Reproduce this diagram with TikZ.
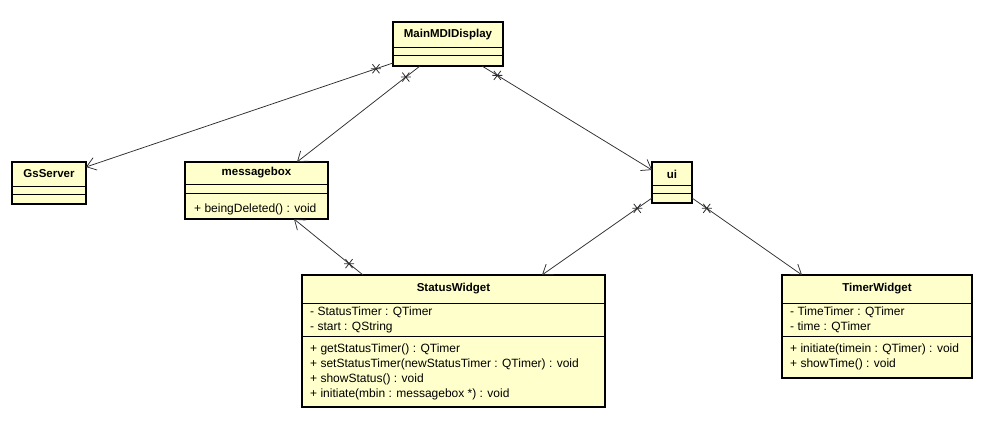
\documentclass[tikz,border=0pt]{standalone}
\usepackage{fontspec}
\setmainfont{Liberation Sans}
\usetikzlibrary{arrows.meta,calc}
\definecolor{clsfill}{RGB}{255,255,204}
\definecolor{linkcol}{RGB}{45,45,45}
\tikzset{
  cls/.style={draw=black, line width=1.6pt, fill=clsfill, rectangle, inner sep=0pt, outer sep=0pt, anchor=north west},
  sep/.style={draw=black, line width=0.9pt},
  title/.style={font=\fontsize{11.5}{13}\selectfont\bfseries, inner sep=0pt, anchor=center},
  member/.style={font=\fontsize{12}{14}\selectfont, inner sep=0pt, anchor=west},
  link/.style={draw=linkcol, line width=0.75pt, -{Straight Barb[length=9pt,width=13pt,line width=0.75pt]}},
  ast/.pic={\draw[linkcol, line width=0.8pt] (-5,0)--(5,0) (-3.5,-4.5)--(3.5,4.5) (-3.5,4.5)--(3.5,-4.5);}
}
\begin{document}
\begin{tikzpicture}[x=1pt,y=-1pt]
\useasboundingbox (0,0) rectangle (983,443);

% MainMDIDisplay
\node[cls, minimum width=110pt, minimum height=44pt] (main) at (393,22) {};
\draw[sep] (393,47) -- (503,47) (393,55) -- (503,55);
\node[title] (mainT) at (448,35) {MainMDIDisplay};

% GsServer
\node[cls, minimum width=74pt, minimum height=42pt] (gs) at (12,162) {};
\draw[sep] (12,186) -- (86,186) (12,194) -- (86,194);
\node[title] (gsT) at (49,174) {GsServer};

% messagebox
\node[cls, minimum width=143pt, minimum height=57pt] (msg) at (185,162) {};
\draw[sep] (185,184) -- (328,184) (185,193) -- (328,193);
\node[title] (msgT) at (256.5,173) {messagebox};
\node[member] (msgM1) at (194,209) {+ beingDeleted() : void};

% ui
\node[cls, minimum width=40pt, minimum height=41pt] (ui) at (652,162) {};
\draw[sep] (652,185) -- (692,185) (652,193) -- (692,193);
\node[title] (uiT) at (672,174) {ui};

% StatusWidget
\node[cls, minimum width=303pt, minimum height=132pt] (sw) at (302,275) {};
\draw[sep] (302,303) -- (605,303) (302,336) -- (605,336);
\node[title] (swT) at (453.5,289) {StatusWidget};
\node[member] (swA1) at (310,312) {- StatusTimer : QTimer};
\node[member] (swA2) at (310,327) {- start : QString};
\node[member] (swM1) at (310,349) {+ getStatusTimer() : QTimer};
\node[member] (swM2) at (310,364) {+ setStatusTimer(newStatusTimer : QTimer) : void};
\node[member] (swM3) at (310,379) {+ showStatus() : void};
\node[member] (swM4) at (310,394) {+ initiate(mbin : messagebox *) : void};

% TimerWidget
\node[cls, minimum width=190pt, minimum height=103pt] (tw) at (782,275) {};
\draw[sep] (782,303) -- (972,303) (782,336) -- (972,336);
\node[title] (twT) at (877,289) {TimerWidget};
\node[member] (twA1) at (790,312) {- TimeTimer : QTimer};
\node[member] (twA2) at (790,327) {- time : QTimer};
\node[member] (twM1) at (790,349) {+ initiate(timein : QTimer) : void};
\node[member] (twM2) at (790,364) {+ showTime() : void};

% association end points
\coordinate (a1) at ($(main.south west)+(0,-3)$);
\coordinate (b1) at ($(gs.north east)+(0,5)$);
\coordinate (a2) at ($(main.south west)+(27,0)$);
\coordinate (b2) at ($(msg.north west)+(112,0)$);
\coordinate (a3) at ($(main.south west)+(89,0)$);
\coordinate (b3) at ($(ui.north west)+(0,8)$);
\coordinate (a4) at ($(sw.north west)+(61,0)$);
\coordinate (b4) at ($(msg.south west)+(109,0)$);
\coordinate (a5) at ($(ui.south west)+(0,-5)$);
\coordinate (b5) at ($(sw.north west)+(240,0)$);
\coordinate (a6) at ($(ui.south east)+(0,-5)$);
\coordinate (b6) at ($(tw.north west)+(20,0)$);

% associations with multiplicity marks at the source end
\foreach \i in {1,...,6}{
  \draw[link] (a\i) -- (b\i);
  \pic at ($(a\i)!18pt!(b\i)$) {ast};
}
\end{tikzpicture}
\end{document}
